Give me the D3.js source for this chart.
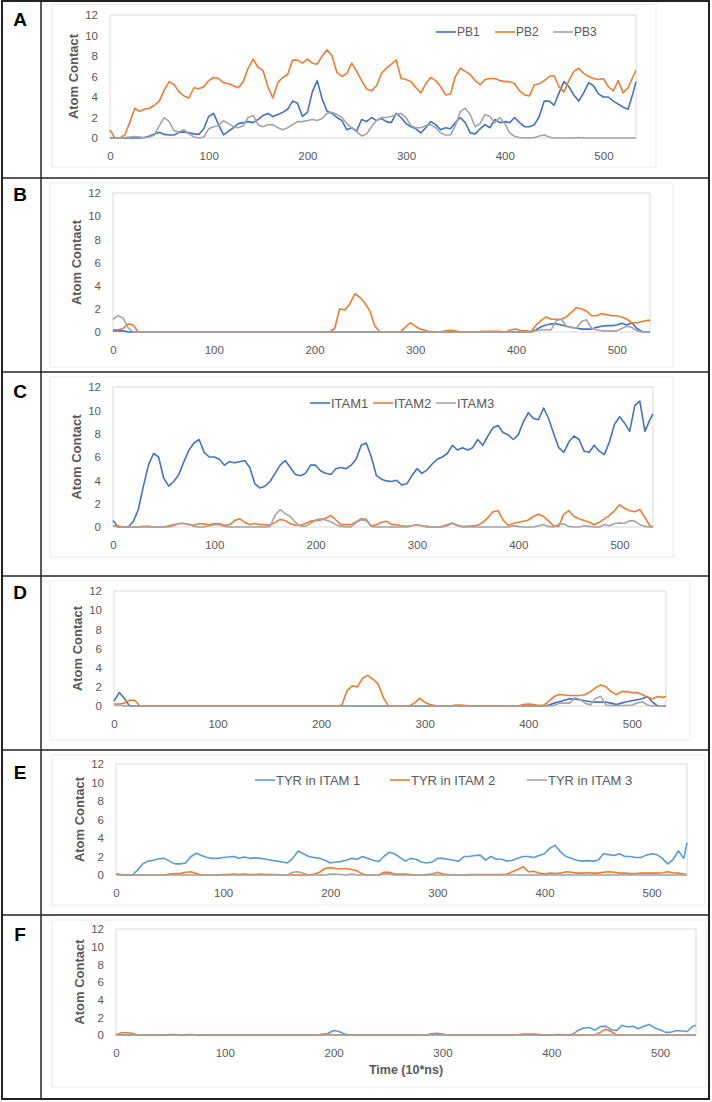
<!DOCTYPE html>
<html>
<head>
<meta charset="utf-8">
<script src="https://cdn.jsdelivr.net/npm/d3@7"></script>
<style>
  body { margin: 0; background: #fff; }
  svg { display: block; }
</style>
</head>
<body>
<script>
// time axis (10*ns), one sample every 5 units
const time = d3.range(0, 531, 5).concat([533]);
const xTicks = [0, 100, 200, 300, 400, 500];
const yTicks = [0, 2, 4, 6, 8, 10, 12];

const pbNames = ["PB1", "PB2", "PB3"];
const itamNames = ["ITAM1", "ITAM2", "ITAM3"];
const tyrNames = ["TYR in ITAM 1", "TYR in ITAM 2", "TYR in ITAM 3"];

// ---- panel A
const aPB1 = [
  0, 0, 0, 0, 0, 0, 0, 0.05, 0.2, 0.4,
  0.55, 0.35, 0.3, 0.3, 0.55, 0.6, 0.5, 0.4, 0.35, 0.9,
  2.1, 2.4, 1.3, 0.3, 0.65, 1.0, 1.4, 1.5, 1.6, 1.5,
  1.8, 2.2, 2.4, 2.1, 2.3, 2.5, 2.8, 3.6, 3.4, 2.1,
  2.5, 4.5, 5.6, 3.8, 2.6, 2.4, 2.0, 1.7, 0.8, 1.0,
  0.7, 1.8, 1.6, 2.0, 1.7, 1.9, 1.6, 1.5, 2.4, 2.0,
  1.4, 1.1, 0.9, 0.5, 1.0, 1.6, 1.3, 0.8, 1.0, 0.9,
  1.5, 2.0, 1.5, 0.5, 0.4, 0.9, 1.3, 1.0, 1.8, 1.5,
  1.6, 1.5, 2.0, 1.5, 1.1, 1.1, 1.3, 2.1, 3.6, 3.6,
  3.2, 4.4, 5.5, 5.0, 4.2, 3.6, 4.4, 5.4, 5.1, 4.3,
  4.0, 4.0, 3.6, 3.3, 3.0, 2.8, 4.4, 5.5
];
const aPB2 = [
  0.8, 0, 0, 0.3, 1.5, 2.9, 2.6, 2.8, 2.9, 3.2,
  3.6, 4.7, 5.5, 5.2, 4.5, 4.1, 3.9, 4.9, 4.8, 5.0,
  5.6, 5.9, 5.8, 5.4, 5.3, 5.1, 4.9, 5.5, 6.8, 7.7,
  6.9, 6.6, 5.0, 3.9, 5.4, 5.9, 6.2, 7.6, 7.6, 7.3,
  7.7, 7.3, 7.2, 8.0, 8.6, 8.0, 6.4, 6.0, 6.3, 7.3,
  6.5, 5.6, 4.8, 4.6, 5.1, 6.3, 6.8, 7.2, 7.6, 5.8,
  5.7, 5.5, 4.9, 4.4, 5.3, 5.9, 5.6, 5.0, 4.2, 4.3,
  6.0, 6.8, 6.5, 6.2, 5.6, 5.2, 5.7, 5.8, 5.8, 5.6,
  5.5, 5.5, 5.3, 4.6, 4.2, 4.1, 5.2, 5.3, 5.6, 6.0,
  6.1, 5.0, 4.5, 5.6, 6.5, 6.8, 6.3, 6.0, 5.8, 5.7,
  5.8, 5.0, 4.6, 5.6, 4.4, 4.9, 6.0, 6.6
];
const aPB3 = [
  0, 0, 0, 0.05, 0.1, 0.15, 0.1, 0.05, 0.1, 0.3,
  1.2, 2.0, 1.6, 0.7, 0.6, 0.8, 0.4, 0.1, 0, 0.1,
  0.9, 1.1, 1.2, 1.7, 1.4, 1.1, 1.0, 1.2, 2.0, 2.2,
  1.3, 1.1, 1.3, 1.3, 1.0, 0.8, 1.0, 1.3, 1.6, 1.6,
  1.7, 1.8, 1.7, 1.9, 2.4, 2.5, 2.3, 2.0, 1.4, 1.0,
  0.6, 0.2, 0.4, 1.1, 1.7, 2.0, 2.0, 2.1, 2.3, 2.4,
  2.0, 1.2, 1.0, 1.0, 1.2, 1.3, 1.0, 0.5, 0.3, 0.3,
  1.2, 2.6, 2.9, 2.3, 1.1, 1.4, 2.3, 2.1, 1.5, 2.0,
  1.4, 0.5, 0.15, 0.05, 0, 0, 0.05, 0.2, 0.3, 0.1,
  0, 0, 0, 0, 0, 0.05, 0, 0, 0, 0,
  0, 0, 0, 0, 0, 0, 0, 0
];

// ---- panel B
const bS1 = [
  0.1, 0.1, 0.1, 0, 0, 0, 0, 0, 0, 0,
  0, 0, 0, 0, 0, 0, 0, 0, 0, 0,
  0, 0, 0, 0, 0, 0, 0, 0, 0, 0,
  0, 0, 0, 0, 0, 0, 0, 0, 0, 0,
  0, 0, 0, 0, 0, 0, 0, 0, 0, 0,
  0, 0, 0, 0, 0, 0, 0, 0, 0, 0,
  0, 0, 0, 0, 0, 0, 0, 0, 0, 0,
  0, 0, 0, 0, 0, 0, 0, 0, 0, 0,
  0, 0, 0, 0, 0.2, 0.45, 0.6, 0.7, 0.7, 0.6,
  0.5, 0.4, 0.35, 0.25, 0.25, 0.25, 0.4, 0.5, 0.55, 0.55,
  0.6, 0.75, 0.6, 0.8, 0.3, 0.05, 0, 0
];
const bS2 = [
  0.2, 0.2, 0.3, 0.7, 0.6, 0, 0, 0, 0, 0,
  0, 0, 0, 0, 0, 0, 0, 0, 0, 0,
  0, 0, 0, 0, 0, 0, 0, 0, 0, 0,
  0, 0, 0, 0, 0, 0, 0, 0, 0, 0,
  0, 0, 0, 0, 0.3, 2.0, 1.9, 2.4, 3.3, 3.0,
  2.5, 1.8, 0.5, 0, 0, 0, 0, 0, 0.4, 0.8,
  0.5, 0.25, 0.15, 0, 0, 0, 0.1, 0.15, 0.1, 0,
  0, 0, 0, 0.05, 0.05, 0.05, 0.05, 0.05, 0, 0.2,
  0.25, 0.1, 0.1, 0.05, 0.6, 1.0, 1.3, 1.1, 1.1, 1.1,
  1.3, 1.7, 2.1, 2.0, 1.8, 1.4, 1.4, 1.6, 1.5, 1.4,
  1.4, 1.3, 1.1, 0.8, 0.8, 0.9, 1.0, 1.0
];
const bS3 = [
  1.1, 1.4, 1.2, 0.35, 0, 0, 0, 0, 0, 0,
  0, 0, 0, 0, 0, 0, 0, 0, 0, 0,
  0, 0, 0, 0, 0, 0, 0, 0, 0, 0,
  0, 0, 0, 0, 0, 0, 0, 0, 0, 0,
  0, 0, 0, 0, 0, 0, 0, 0, 0, 0,
  0, 0, 0, 0, 0, 0, 0, 0, 0, 0,
  0, 0, 0, 0, 0, 0, 0, 0, 0, 0,
  0, 0, 0, 0, 0, 0, 0, 0, 0, 0,
  0, 0, 0, 0, 0.1, 0.2, 0.2, 0.2, 1.0, 1.1,
  0.5, 0.4, 0.35, 0.9, 1.05, 0.3, 0.2, 0.1, 0.1, 0.1,
  0.1, 0.3, 0.5, 0.4, 0.1, 0, 0, 0
];

// ---- panel C
const cITAM1 = [
  0.55, 0, 0, 0, 0.45, 1.5, 3.5, 5.3, 6.3, 6.0,
  4.2, 3.5, 3.9, 4.5, 5.6, 6.6, 7.2, 7.5, 6.4, 6.0,
  6.0, 5.8, 5.3, 5.6, 5.5, 5.6, 5.7, 5.1, 3.7, 3.35,
  3.5, 3.9, 4.6, 5.3, 5.7, 5.1, 4.5, 4.4, 4.6, 5.3,
  5.3, 4.8, 4.6, 4.5, 5.0, 5.1, 5.0, 5.3, 5.8, 7.0,
  7.2, 6.0, 4.4, 4.1, 3.95, 3.9, 4.0, 3.6, 3.7, 4.4,
  5.0, 4.6, 4.9, 5.4, 5.8, 6.0, 6.3, 7.0, 6.6, 6.8,
  6.6, 6.8, 7.5, 7.0, 7.8, 8.5, 8.7, 8.1, 7.9, 7.5,
  7.9, 9.0, 9.8, 9.3, 9.2, 10.2, 9.3, 8.0, 6.8, 6.4,
  7.3, 7.8, 7.5, 6.5, 6.4, 7.0, 6.5, 6.2, 7.3, 8.8,
  9.45, 8.9, 8.2, 10.4, 10.8, 8.2, 9.2, 9.7
];
const cITAM2 = [
  0.1, 0.1, 0, 0, 0, 0, 0.05, 0.05, 0, 0,
  0, 0.1, 0.2, 0.3, 0.3, 0.2, 0.15, 0.3, 0.25, 0.2,
  0.3, 0.3, 0.15, 0.2, 0.55, 0.7, 0.4, 0.2, 0.3, 0.2,
  0.2, 0.15, 0.4, 0.65, 0.55, 0.3, 0.15, 0.15, 0.3, 0.5,
  0.55, 0.6, 0.75, 1.0, 0.6, 0.2, 0.2, 0.2, 0.45, 0.7,
  0.65, 0.1, 0.2, 0.4, 0.5, 0.2, 0.2, 0.1, 0.05, 0.1,
  0.2, 0.1, 0.05, 0, 0, 0.05, 0.2, 0.35, 0.15, 0.05,
  0.05, 0.1, 0.15, 0.4, 0.8, 1.3, 1.4, 0.6, 0.15, 0.3,
  0.4, 0.5, 0.6, 0.9, 1.1, 0.9, 0.5, 0.1, 0.05, 1.1,
  1.4, 0.9, 0.7, 0.55, 0.4, 0.2, 0.4, 0.7, 1.0, 1.4,
  1.9, 1.6, 1.4, 1.3, 1.5, 0.8, 0.1, 0
];
const cITAM3 = [
  0.1, 0, 0, 0, 0, 0, 0, 0, 0, 0,
  0, 0, 0.1, 0.3, 0.3, 0.25, 0.05, 0, 0, 0.1,
  0.2, 0.2, 0.05, 0, 0, 0, 0, 0, 0, 0,
  0, 0.05, 1.0, 1.5, 1.15, 0.9, 0.4, 0.1, 0.05, 0.3,
  0.6, 0.7, 0.6, 0.45, 0.2, 0.05, 0, 0, 0.4, 0.6,
  0.55, 0.05, 0, 0, 0, 0, 0, 0, 0, 0.1,
  0.2, 0.1, 0, 0, 0, 0, 0.1, 0.3, 0.1, 0,
  0, 0, 0, 0, 0, 0, 0, 0, 0, 0.1,
  0.05, 0, 0, 0, 0.1, 0.2, 0.05, 0, 0.25, 0.25,
  0.05, 0, 0, 0.1, 0.05, 0, 0, 0.2, 0.1, 0.3,
  0.35, 0.3, 0.55, 0.5, 0.2, 0.05, 0, 0
];

// ---- panel D
const dS1 = [
  0.5, 1.4, 0.8, 0, 0, 0, 0, 0, 0, 0,
  0, 0, 0, 0, 0, 0, 0, 0, 0, 0,
  0, 0, 0, 0, 0, 0, 0, 0, 0, 0,
  0, 0, 0, 0, 0, 0, 0, 0, 0, 0,
  0, 0, 0, 0, 0, 0, 0, 0, 0, 0,
  0, 0, 0, 0, 0, 0, 0, 0, 0, 0,
  0, 0, 0, 0, 0, 0, 0, 0, 0, 0,
  0, 0, 0, 0, 0, 0, 0, 0, 0, 0,
  0, 0, 0, 0, 0.1, 0.3, 0.45, 0.6, 0.75, 0.7,
  0.65, 0.55, 0.45, 0.4, 0.4, 0.4, 0.3, 0.15, 0.3, 0.45,
  0.55, 0.65, 0.75, 1.0, 0.4, 0, 0, 0
];
const dS2 = [
  0.2, 0.2, 0.3, 0.6, 0.6, 0, 0, 0, 0, 0,
  0, 0, 0, 0, 0, 0, 0, 0, 0, 0,
  0, 0, 0, 0, 0, 0, 0, 0, 0, 0,
  0, 0, 0, 0, 0, 0, 0, 0, 0, 0,
  0, 0, 0, 0, 0.1, 1.6, 2.1, 2.0, 2.9, 3.2,
  2.8, 2.3, 0.9, 0, 0, 0, 0, 0, 0.3, 0.8,
  0.4, 0.15, 0.05, 0, 0, 0, 0.1, 0.1, 0.05, 0,
  0, 0, 0, 0, 0, 0, 0, 0, 0, 0.15,
  0.2, 0.15, 0.05, 0.1, 0.5, 1.0, 1.2, 1.15, 1.1, 1.1,
  1.1, 1.2, 1.5, 1.9, 2.2, 2.0, 1.5, 1.2, 1.5, 1.5,
  1.4, 1.4, 1.2, 0.9, 0.75, 1.0, 0.9, 1.0
];
const dS3 = [
  0.1, 0.1, 0, 0, 0, 0, 0, 0, 0, 0,
  0, 0, 0, 0, 0, 0, 0, 0, 0, 0,
  0, 0, 0, 0, 0, 0, 0, 0, 0, 0,
  0, 0, 0, 0, 0, 0, 0, 0, 0, 0,
  0, 0, 0, 0, 0, 0, 0, 0, 0, 0,
  0, 0, 0, 0, 0, 0, 0, 0, 0, 0,
  0, 0, 0, 0, 0, 0, 0, 0, 0, 0,
  0, 0, 0, 0, 0, 0, 0, 0, 0, 0,
  0, 0, 0, 0, 0, 0.05, 0.3, 0.3, 0.3, 0.85,
  0.7, 0.3, 0.1, 0.8, 1.0, 0.1, 0.05, 0.05, 0.05, 0.05,
  0.1, 0.3, 0.45, 0.1, 0, 0, 0, 0
];

// ---- panel E
const eTYR1 = [
  0.05, 0, 0, 0, 0.5, 1.2, 1.5, 1.6, 1.75, 1.8,
  1.5, 1.2, 1.2, 1.3, 2.0, 2.35, 2.1, 1.9, 1.8, 1.8,
  1.9, 1.95, 2.0, 1.8, 1.95, 1.8, 1.85, 1.8, 1.7, 1.6,
  1.5, 1.4, 1.3, 1.8, 2.6, 2.3, 2.0, 1.9, 1.8, 1.6,
  1.3, 1.4, 1.45, 1.6, 1.8, 1.7, 2.0, 1.8, 1.6, 1.45,
  2.0, 2.45, 2.3, 1.9, 1.5, 1.8, 1.7, 1.4, 1.3, 1.4,
  1.8, 1.8, 1.7, 1.6, 1.5, 2.0, 2.0, 2.1, 2.15, 1.6,
  2.0, 1.7, 1.7, 1.5, 1.6, 1.8, 2.0, 2.0, 1.9, 2.1,
  2.3, 2.9, 3.2, 2.5, 2.0, 1.8, 1.6, 1.5, 1.55, 1.5,
  1.6, 2.3, 2.2, 2.1, 2.3, 2.0, 2.0, 1.9, 1.9, 2.15,
  2.3, 2.2, 1.8, 1.2, 1.7, 2.6, 1.8, 3.5
];
const eTYR2 = [
  0.1, 0.05, 0, 0, 0, 0, 0, 0, 0, 0,
  0.1, 0.15, 0.15, 0.3, 0.35, 0.15, 0, 0, 0, 0,
  0.05, 0.05, 0.1, 0.05, 0.1, 0.05, 0.05, 0.1, 0.05, 0.05,
  0.05, 0, 0, 0, 0, 0, 0, 0.1, 0.3, 0.7,
  0.8, 0.7, 0.65, 0.7, 0.6, 0.45, 0.1, 0, 0, 0,
  0.3, 0.3, 0.1, 0.1, 0.1, 0.05, 0, 0, 0.05, 0.1,
  0.3, 0.1, 0.05, 0, 0, 0, 0.05, 0.05, 0.05, 0.05,
  0.05, 0.05, 0.05, 0.1, 0.35, 0.6, 0.9, 0.35, 0.4, 0.2,
  0.1, 0.2, 0.15, 0.2, 0.35, 0.3, 0.2, 0.2, 0.25, 0.2,
  0.2, 0.3, 0.35, 0.3, 0.2, 0.2, 0.15, 0.15, 0.2, 0.2,
  0.2, 0.2, 0.25, 0.35, 0.25, 0.2, 0.1, 0.05
];
const eTYR3 = [
  0.1, 0, 0, 0, 0, 0, 0, 0, 0, 0,
  0, 0, 0, 0, 0, 0, 0, 0, 0, 0,
  0, 0, 0, 0, 0, 0, 0, 0, 0, 0,
  0, 0, 0, 0.3, 0.35, 0.2, 0, 0, 0, 0,
  0.1, 0.1, 0.05, 0, 0.1, 0, 0, 0, 0, 0,
  0.1, 0.15, 0, 0, 0, 0, 0, 0, 0, 0,
  0, 0, 0, 0, 0, 0, 0, 0, 0, 0,
  0, 0, 0, 0, 0, 0, 0, 0, 0, 0,
  0, 0, 0, 0, 0, 0, 0, 0, 0, 0,
  0, 0, 0, 0, 0, 0, 0, 0, 0, 0,
  0, 0, 0, 0, 0, 0, 0, 0
];

// ---- panel F
const fTYR1 = [
  0.05, 0, 0, 0, 0, 0, 0, 0, 0, 0,
  0.05, 0.05, 0, 0.05, 0.05, 0, 0, 0, 0, 0,
  0, 0, 0, 0, 0, 0, 0, 0, 0, 0,
  0, 0, 0, 0, 0, 0, 0, 0, 0, 0.2,
  0.5, 0.4, 0.1, 0, 0, 0, 0, 0, 0, 0,
  0, 0, 0, 0, 0, 0, 0, 0, 0.15, 0.2,
  0.1, 0, 0, 0, 0, 0, 0, 0, 0, 0,
  0, 0, 0, 0, 0.05, 0.1, 0.1, 0.1, 0.05, 0,
  0, 0.05, 0.05, 0, 0.1, 0.55, 0.8, 0.85, 0.55, 0.95,
  1.0, 0.6, 0.5, 1.1, 0.9, 1.0, 0.7, 1.0, 1.2, 0.8,
  0.6, 0.3, 0.3, 0.5, 0.45, 0.4, 1.0, 1.1
];
const fTYR2 = [
  0, 0.25, 0.25, 0.2, 0, 0, 0, 0, 0, 0,
  0, 0, 0, 0, 0, 0, 0, 0, 0, 0,
  0, 0, 0, 0, 0, 0, 0, 0, 0, 0,
  0, 0, 0, 0, 0, 0, 0, 0, 0.1, 0.1,
  0, 0, 0, 0, 0, 0, 0, 0, 0, 0,
  0, 0, 0, 0, 0, 0, 0, 0, 0, 0,
  0, 0, 0, 0, 0, 0, 0, 0, 0, 0,
  0, 0, 0, 0, 0, 0, 0, 0, 0, 0,
  0, 0, 0, 0, 0, 0, 0, 0, 0, 0.3,
  0.65, 0.4, 0, 0, 0, 0, 0, 0, 0, 0,
  0, 0, 0, 0, 0, 0, 0, 0
];
const fTYR3 = [
  0, 0, 0, 0, 0, 0, 0, 0, 0, 0,
  0, 0, 0, 0, 0, 0, 0, 0, 0, 0,
  0, 0, 0, 0, 0, 0, 0, 0, 0, 0,
  0, 0, 0, 0, 0, 0, 0, 0, 0, 0,
  0, 0, 0, 0, 0, 0, 0, 0, 0, 0,
  0, 0, 0, 0, 0, 0, 0, 0, 0, 0,
  0, 0, 0, 0, 0, 0, 0, 0, 0, 0,
  0, 0, 0, 0, 0, 0, 0, 0, 0, 0,
  0, 0, 0, 0, 0, 0, 0, 0, 0, 0,
  0, 0, 0, 0, 0, 0, 0, 0, 0, 0,
  0, 0, 0, 0, 0, 0, 0, 0
];

const darkColors = ["#4472C4", "#ED7D31", "#A5A5A5"];
const lightColors = ["#5B9BD5", "#ED7D31", "#A5A5A5"];

// layout of each cell of the table
const panels = [
  { letter: "A", letterY: 26, series: [aPB1, aPB2, aPB3], colors: darkColors,
    names: pbNames, legendX: [436, 495, 553], legendY: 32, legendSize: 12,
    plot: { l: 110, r: 636, t: 15, b: 138 }, area: { l: 52, r: 656, t: 4, b: 167 } },
  { letter: "B", letterY: 201, series: [bS1, bS2, bS3], colors: darkColors,
    names: null,
    plot: { l: 113, r: 650, t: 193, b: 332 }, area: { l: 50, r: 673, t: 183, b: 367 } },
  { letter: "C", letterY: 398, series: [cITAM1, cITAM2, cITAM3], colors: darkColors,
    names: itamNames, legendX: [310, 373, 436], legendY: 403, legendSize: 13,
    plot: { l: 113, r: 653, t: 387, b: 527 }, area: { l: 50, r: 673, t: 377, b: 557 } },
  { letter: "D", letterY: 599, series: [dS1, dS2, dS3], colors: darkColors,
    names: null,
    plot: { l: 114, r: 666, t: 591, b: 706 }, area: { l: 50, r: 690, t: 581, b: 740 } },
  { letter: "E", letterY: 779, series: [eTYR1, eTYR2, eTYR3], colors: lightColors,
    names: tyrNames, legendX: [255, 390, 527], legendY: 780, legendSize: 13,
    plot: { l: 116, r: 687, t: 764, b: 875 }, area: { l: 52, r: 705, t: 755, b: 905 } },
  { letter: "F", letterY: 941, series: [fTYR1, fTYR2, fTYR3], colors: lightColors,
    names: null, xTitle: "Time (10*ns)",
    plot: { l: 116, r: 696, t: 929, b: 1035 }, area: { l: 52, r: 706, t: 920, b: 1087 } }
];

const rowLines = [178, 372, 576, 750, 915];
const font = "'Liberation Sans', Arial, sans-serif";
const textColor = "#595959";

const svg = d3.select("body")
  .append("svg")
  .attr("width", 712)
  .attr("height", 1102);

svg.append("rect").attr("width", 712).attr("height", 1102).attr("fill", "#fff");

panels.forEach(p => {
  // faint chart-area frame
  svg.append("rect")
    .attr("x", p.area.l).attr("y", p.area.t)
    .attr("width", p.area.r - p.area.l).attr("height", p.area.b - p.area.t)
    .attr("fill", "none").attr("stroke", "#ececec");

  const x = d3.scaleLinear().domain([0, 533]).range([p.plot.l, p.plot.r]);
  const y = d3.scaleLinear().domain([0, 12]).range([p.plot.b, p.plot.t]);

  // plot area border
  svg.append("rect")
    .attr("x", p.plot.l).attr("y", p.plot.t)
    .attr("width", p.plot.r - p.plot.l).attr("height", p.plot.b - p.plot.t)
    .attr("fill", "none").attr("stroke", "#d9d9d9");

  const yAxis = svg.append("g")
    .attr("transform", "translate(" + p.plot.l + ",0)")
    .call(d3.axisLeft(y).tickValues(yTicks).tickSize(0).tickPadding(12));
  const xAxis = svg.append("g")
    .attr("transform", "translate(0," + p.plot.b + ")")
    .call(d3.axisBottom(x).tickValues(xTicks).tickSize(0).tickPadding(14));
  [xAxis, yAxis].forEach(g => {
    g.select(".domain").remove();
    g.selectAll("text")
      .attr("fill", textColor)
      .style("font-family", font)
      .style("font-size", "11.5px");
  });

  // y axis title
  svg.append("text")
    .attr("transform", "translate(" + (p.plot.l - 37) + "," + ((p.plot.t + p.plot.b) / 2) + ") rotate(-90)")
    .attr("text-anchor", "middle")
    .attr("dy", "0.35em")
    .attr("fill", textColor)
    .style("font-family", font)
    .style("font-size", "13px")
    .style("font-weight", "bold")
    .text("Atom Contact");

  if (p.xTitle) {
    svg.append("text")
      .attr("x", (p.plot.l + p.plot.r) / 2)
      .attr("y", p.plot.b + 39)
      .attr("text-anchor", "middle")
      .attr("fill", textColor)
      .style("font-family", font)
      .style("font-size", "12.5px")
      .style("font-weight", "bold")
      .text(p.xTitle);
  }

  const line = d3.line()
    .x((d, i) => x(time[i]))
    .y(d => y(d));

  p.series.forEach((s, k) => {
    svg.append("path")
      .datum(s)
      .attr("fill", "none")
      .attr("stroke", p.colors[k])
      .attr("stroke-width", 1.6)
      .attr("stroke-linejoin", "round")
      .attr("d", line);
  });

  // legend
  if (p.names) {
    p.names.forEach((name, k) => {
      const lg = svg.append("g").attr("transform", "translate(" + p.legendX[k] + "," + p.legendY + ")");
      lg.append("line")
        .attr("x1", 0).attr("x2", 20)
        .attr("stroke", p.colors[k]).attr("stroke-width", 1.6);
      lg.append("text")
        .attr("x", 21).attr("dy", "0.35em")
        .attr("fill", textColor)
        .style("font-family", font)
        .style("font-size", p.legendSize + "px")
        .text(name);
    });
  }

  // panel letter
  svg.append("text")
    .attr("x", 20).attr("y", p.letterY)
    .attr("text-anchor", "middle")
    .attr("fill", "#000")
    .style("font-family", font)
    .style("font-size", "19px")
    .style("font-weight", "bold")
    .text(p.letter);
});

// table grid
const grid = svg.append("g").attr("stroke", "#222").attr("fill", "none");
grid.append("rect").attr("x", 2).attr("y", 1).attr("width", 707).attr("height", 1098).attr("stroke-width", 2);
grid.append("line").attr("x1", 41).attr("x2", 41).attr("y1", 1).attr("y2", 1099).attr("stroke-width", 1.5);
rowLines.forEach(ry => {
  grid.append("line").attr("x1", 2).attr("x2", 709).attr("y1", ry).attr("y2", ry).attr("stroke-width", 1.5);
});
</script>
</body>
</html>
